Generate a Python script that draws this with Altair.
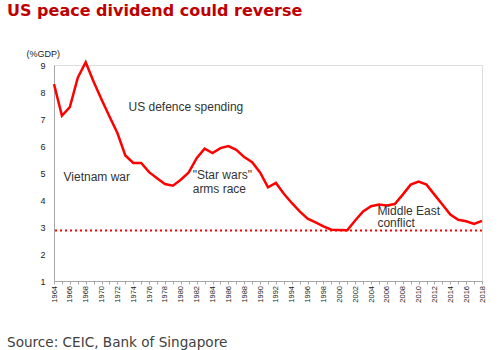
import altair as alt
import pandas as pd

years = list(range(1964, 2019))
spending = [8.29, 7.12, 7.44, 8.53, 9.10, 8.38, 7.72, 7.09, 6.48, 5.65,
            5.37, 5.37, 5.03, 4.81, 4.59, 4.53, 4.75, 5.02, 5.55, 5.90,
            5.74, 5.92, 6.00, 5.86, 5.59, 5.40, 5.02, 4.47, 4.63, 4.23,
            3.89, 3.58, 3.31, 3.17, 3.02, 2.90, 2.89, 2.88, 3.24, 3.58,
            3.77, 3.83, 3.80, 3.85, 4.20, 4.57, 4.68, 4.57, 4.20, 3.83,
            3.46, 3.27, 3.21, 3.11, 3.23]
floor_level = [2.87]
y_ticks = [1, 2, 3, 4, 5, 6, 7, 8, 9]

note_text = ["US defence spending", "Vietnam war", "\"Star wars\"", "arms race",
             "Middle East", "conflict"]
note_year = [1973.4, 1965.2, 1981.5, 1981.5, 2004.8, 2004.8]
note_value = [7.46, 4.87, 4.93, 4.41, 3.60, 3.13]

FONT = "Liberation Sans"
WIDE = "DejaVu Sans"

df = pd.DataFrame({"year": years, "value": spending})
notes = pd.DataFrame({"text": note_text, "year": note_year, "value": note_value})
floor_df = pd.DataFrame({"value": floor_level})
source_df = pd.DataFrame({"text": ["Source: CEIC, Bank of Singapore"]})

x_scale = alt.Scale(domain=[1964, 2018], nice=False, zero=False)
y_scale = alt.Scale(domain=[1, 9], nice=False, zero=False)

x_axis = alt.Axis(values=years, format="d", labelAngle=-90, labelFontSize=7.5,
                  labelFont=FONT, labelColor="#222222", grid=False,
                  domainColor="#a6a6a6", tickColor="#a6a6a6", tickSize=3,
                  labelPadding=1.5, labelExpr="datum.value % 2 == 0 ? datum.label : ''",
                  title=None, labelOverlap=False, labelFlush=False,
                  labelBound=False)
y_axis = alt.Axis(values=y_ticks, grid=False, ticks=False,
                  domainColor="#a6a6a6", labelFontSize=9, labelFont=FONT,
                  labelColor="#222222", labelPadding=9, title="(%GDP)",
                  titleAngle=0, titleFontSize=9, titleFont=FONT,
                  titleFontWeight="normal", titleColor="#222222",
                  titleX=-28, titleY=-12, titleAlign="left",
                  titleBaseline="middle", labelOverlap=False,
                  labelFlush=False, labelBound=False)

X = alt.X("year:Q", scale=x_scale, axis=x_axis)
Y = alt.Y("value:Q", scale=y_scale, axis=y_axis)

line = alt.Chart(df).mark_line(color="#ff0000", strokeWidth=2.5).encode(
    x=X, y=Y,
)

rule = alt.Chart(floor_df).mark_rule(color="#ff0000", strokeWidth=2,
                                     strokeDash=[2, 3]).encode(
    y=Y,
)

labels = alt.Chart(notes).mark_text(align="left", baseline="middle",
                                    fontSize=12, font=FONT,
                                    color="#333333").encode(
    x=X, y=Y, text="text:N",
)

source = alt.Chart(source_df).mark_text(align="left", baseline="middle",
                                        fontSize=13.6, font=WIDE,
                                        color="#404040").encode(
    x=alt.value(-47), y=alt.value(278), text="text:N"
)

chart = alt.layer(line, rule, labels, source).properties(
    width=428, height=216,
    autosize=alt.AutoSizeParams(type="none"),
    padding={"left": 54, "top": 65, "right": 18, "bottom": 69},
    title=alt.TitleParams("US peace dividend could reverse", anchor="start",
                          frame="group", dx=-47, fontSize=16, font=WIDE,
                          fontWeight="bold", color="#c00000", offset=30),
).configure_view(stroke=None).configure(background="white")

chart.save("out.html", embed_options={"renderer": "svg", "actions": False})
